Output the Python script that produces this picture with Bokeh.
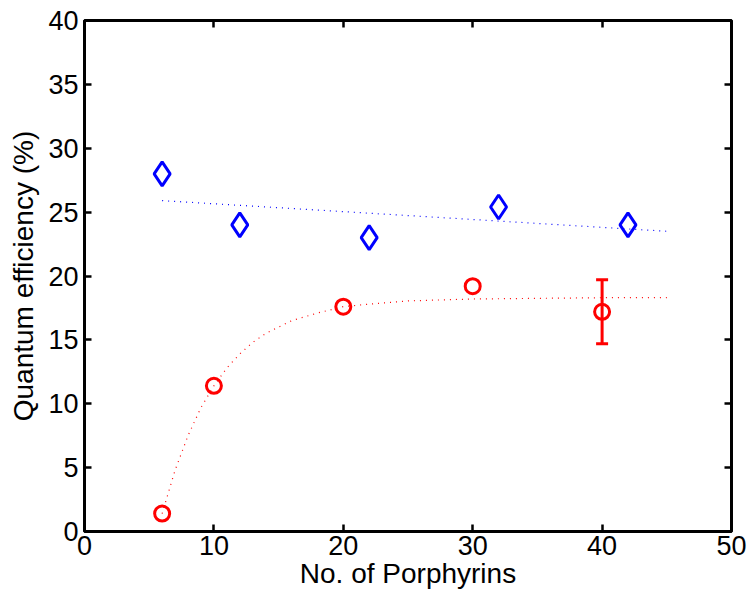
from bokeh.plotting import figure
from bokeh.models import LinearAxis, Range1d, FixedTicker
from bokeh.embed import file_html
from bokeh.resources import INLINE

# Data
blue_x = [6, 12, 22, 32, 42]
blue_y = [28.0, 24.0, 23.0, 25.4, 24.0]
blue_fit_x = [6, 45]
blue_fit_y = [25.9, 23.5]

red_x = [6, 10, 20, 30, 40]
red_y = [1.4, 11.4, 17.6, 19.2, 17.2]
red_err_x = [40]
red_err_low = [14.7]
red_err_high = [19.7]
red_fit_x = [6, 7, 8, 9, 10, 11, 12, 13, 14, 15, 16, 18, 20, 22, 25, 30, 35, 40, 45]
red_fit_y = [1.4, 4.8, 7.5, 9.7, 11.4, 12.8, 13.9, 14.8, 15.5, 16.0, 16.5, 17.1, 17.6,
             17.8, 18.05, 18.2, 18.25, 18.3, 18.3]

x_ticks = [0, 10, 20, 30, 40, 50]
y_ticks = [0, 5, 10, 15, 20, 25, 30, 35, 40]

FONT = "Liberation Sans"
TICK_FS = "27px"
LABEL_FS = "28px"

p = figure(width=748, height=595, output_backend="svg", toolbar_location=None,
           x_range=Range1d(0, 50), y_range=Range1d(0, 40),
           min_border_left=84, min_border_right=17, min_border_top=20, min_border_bottom=64,
           x_axis_label="No. of Porphyrins", y_axis_label="Quantum efficiency (%)")
p.grid.visible = False
p.outline_line_color = "black"
p.outline_line_width = 3
p.background_fill_color = "white"
p.border_fill_color = "white"

for ax in p.xaxis + p.yaxis:
    ax.axis_line_color = None
    ax.major_tick_in = 7
    ax.major_tick_out = 0
    ax.major_tick_line_width = 2.5
    ax.major_tick_line_color = "black"
    ax.minor_tick_line_color = None
    ax.major_label_text_font = FONT
    ax.major_label_text_font_size = TICK_FS
    ax.major_label_text_color = "black"
    ax.axis_label_text_font = FONT
    ax.axis_label_text_font_size = LABEL_FS
    ax.axis_label_text_font_style = "normal"
    ax.axis_label_text_color = "black"

p.xaxis.ticker = FixedTicker(ticks=x_ticks)
p.yaxis.ticker = FixedTicker(ticks=y_ticks)
p.xaxis.major_label_standoff = 4
p.yaxis.major_label_standoff = 6
p.xaxis.axis_label_standoff = 0
p.yaxis.axis_label_standoff = 6

top = LinearAxis(ticker=FixedTicker(ticks=x_ticks),
                 major_label_overrides={t: "" for t in x_ticks},
                 major_label_standoff=0, axis_line_color=None, major_tick_in=7,
                 major_tick_out=0, major_tick_line_width=2.5, minor_tick_line_color=None)
right = LinearAxis(ticker=FixedTicker(ticks=y_ticks),
                   major_label_overrides={t: "" for t in y_ticks},
                   major_label_standoff=0, axis_line_color=None, major_tick_in=7,
                   major_tick_out=0, major_tick_line_width=2.5, minor_tick_line_color=None)
p.add_layout(top, "above")
p.add_layout(right, "right")

# fits
p.line(blue_fit_x, blue_fit_y, line_color="blue", line_width=1.2, line_dash="1 5")
p.line(red_fit_x, red_fit_y, line_color="red", line_width=1.2, line_dash="1 5")

# error bar
p.segment(x0=red_err_x, y0=red_err_low, x1=red_err_x, y1=red_err_high,
          line_color="red", line_width=3)
p.dash(x=red_err_x * 2, y=red_err_low + red_err_high, size=12, line_color="red", line_width=3)

# markers
p.scatter(blue_x, blue_y, marker="diamond", size=24, fill_color=None,
          line_color="blue", line_width=3)
p.scatter(red_x, red_y, marker="circle", size=15, fill_color=None,
          line_color="red", line_width=3)

open("out.html", "w").write(file_html(p, INLINE))
